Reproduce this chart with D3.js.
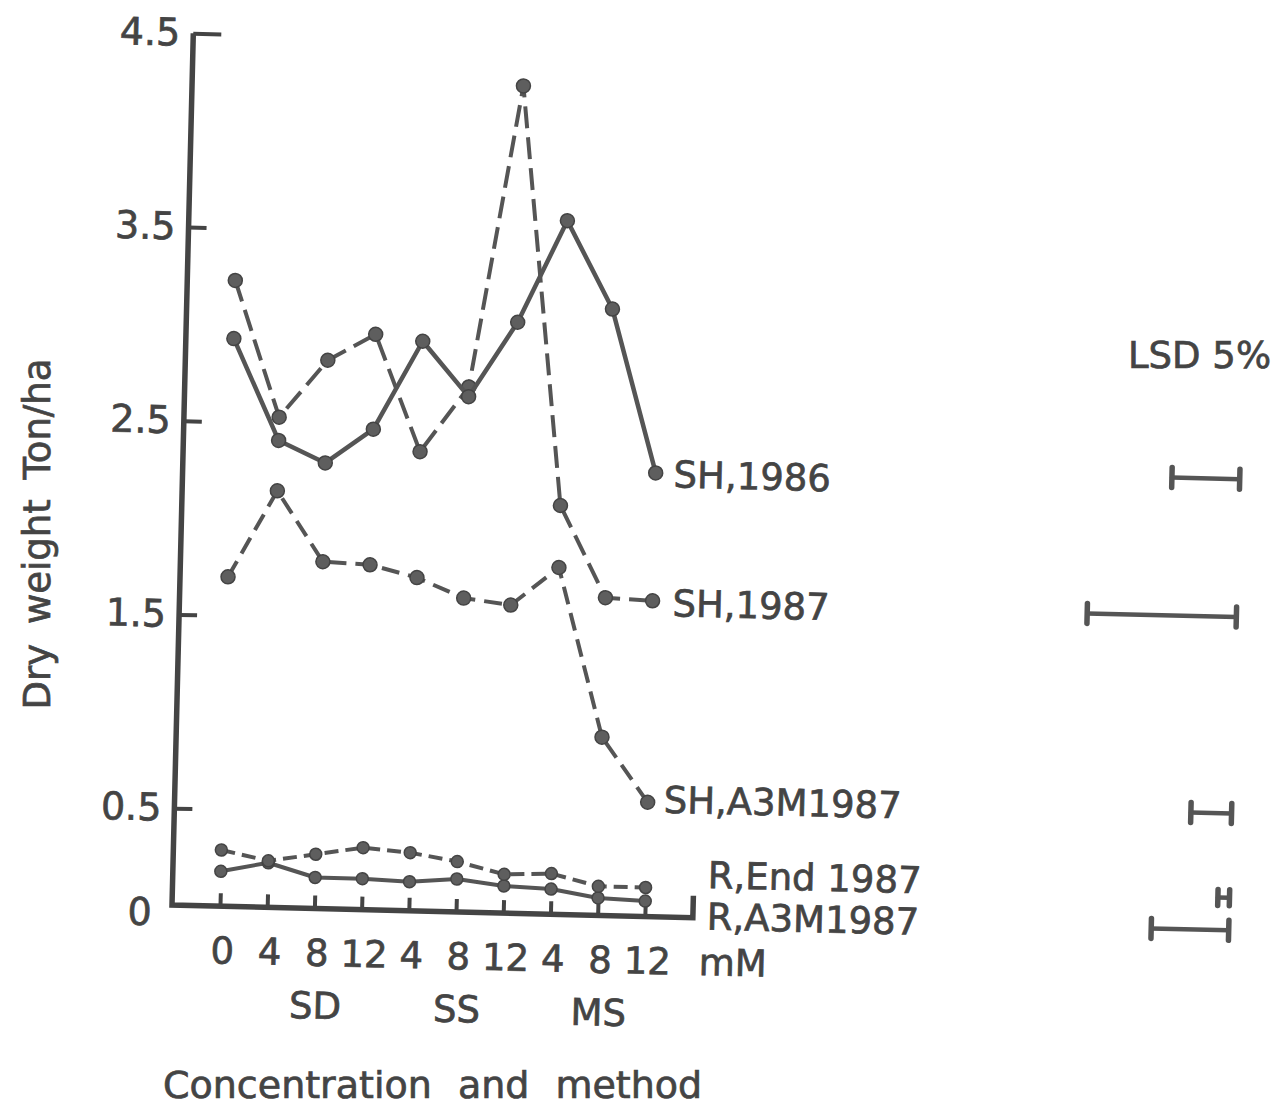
<!DOCTYPE html>
<html>
<head>
<meta charset="utf-8">
<script src="https://cdn.jsdelivr.net/npm/d3@7"></script>
<style>
  body { margin: 0; background: #fff; }
  svg { display: block; }
  text { font-family: "DejaVu Sans", sans-serif; stroke: #444; stroke-width: 0.7px; }
</style>
</head>
<body>
<svg id="chart"></svg>
<script>
// values
const categories = ["0", "SD4", "SD8", "SD12", "SS4", "SS8", "SS12", "MS4", "MS8", "MS12"];
const tickLabels = ["0", "4", "8", "12", "4", "8", "12", "4", "8", "12"];
const methods = ["SD", "SS", "MS"];
const methodCenters = ["SD8", "SS8", "MS8"];
const yTicks = [0, 0.5, 1.5, 2.5, 3.5, 4.5];

const seriesNames = ["SH,1986", "SH,1987", "SH,A3M1987", "R,End 1987", "R,A3M1987"];
const sh1986     = [2.93, 2.41, 2.30, 2.48, 2.94, 2.66, 3.05, 3.58, 3.13, 2.29];
const sh1987     = [3.23, 2.53, 2.83, 2.97, 2.37, 2.71, 4.27, 2.11, 1.64, 1.63];
const shA3M1987  = [1.70, 2.15, 1.79, 1.78, 1.72, 1.62, 1.59, 1.79, 0.92, 0.59];
const rEnd1987   = [0.29, 0.24, 0.28, 0.32, 0.30, 0.26, 0.20, 0.21, 0.15, 0.15];
const rA3M1987   = [0.18, 0.23, 0.16, 0.16, 0.15, 0.17, 0.14, 0.13, 0.09, 0.08];
const lsd5       = [0.35, 0.77, 0.21, 0.06, 0.40];

const W = 1288, H = 1113;
const ink = "#444";
const originX = 172, axisEnd = 693;

const svg = d3.select("#chart").attr("width", W).attr("height", H);

const x = d3.scalePoint().domain(categories).range([220, 645]);
const y = d3.scaleLinear().domain([0, 4.5]).range([905, 33]);
const unit = y(0) - y(1);

// the scan is tilted a little clockwise
const g = svg.append("g").attr("transform", `rotate(1.4,${originX},${y(0)})`);

// y axis ticks point inward
const yAxis = g.append("g")
  .attr("transform", `translate(${originX},0)`)
  .call(d3.axisLeft(y).tickValues(yTicks)
    .tickFormat(d => d === 0 ? "0" : d3.format(".1f")(d))
    .tickSize(-18).tickPadding(13));
yAxis.select(".domain").remove();
yAxis.attr("font-size", 38).attr("font-family", "DejaVu Sans").attr("color", ink);
yAxis.selectAll("line").attr("stroke-width", 4);
yAxis.selectAll(".tick").filter(d => d === 4.5).select("line").attr("x2", 28);
yAxis.selectAll(".tick").filter(d => d === 0).select("line").remove();
yAxis.selectAll(".tick").filter(d => d === 0).select("text").attr("transform", "translate(-7,8)");

// x axis, ticks upward
const xAxis = g.append("g")
  .attr("transform", `translate(0,${y(0)})`)
  .call(d3.axisBottom(x)
    .tickFormat(d => tickLabels[categories.indexOf(d)])
    .tickSize(-13).tickPadding(31));
xAxis.select(".domain").remove();
xAxis.attr("font-size", 37).attr("font-family", "DejaVu Sans").attr("color", ink);
xAxis.selectAll("line").attr("stroke-width", 4);
xAxis.selectAll("text").attr("dx", 3);

// axis frame
g.append("path")
  .attr("d", d3.line()([[originX, y(4.5)], [originX, y(0)], [axisEnd, y(0)], [axisEnd, y(0) - 22]]))
  .attr("fill", "none")
  .attr("stroke", ink)
  .attr("stroke-width", 5.5)
  .attr("stroke-linejoin", "miter");

g.append("text")
  .attr("x", axisEnd + 41)
  .attr("y", y(0) + 57)
  .attr("text-anchor", "middle")
  .attr("font-size", 37)
  .attr("fill", ink)
  .text("mM");

g.selectAll(".method")
  .data(methods)
  .join("text")
  .attr("class", "method")
  .attr("x", (d, i) => x(methodCenters[i]) + 3)
  .attr("y", y(0) + 110)
  .attr("text-anchor", "middle")
  .attr("font-size", 37)
  .attr("fill", ink)
  .text(d => d);

// series
const seriesValues = [sh1986, sh1987, shA3M1987, rEnd1987, rA3M1987];
const lineStyle = [
  { dash: null, width: 4.5, r: 7 },
  { dash: "22,9", width: 4, r: 7 },
  { dash: "18,9", width: 4, r: 7 },
  { dash: "14,7", width: 4, r: 6 },
  { dash: null, width: 4, r: 6 }
];
const labelPos = [
  { dx: 18, dy: 14, lsdShift: -9 },
  { dx: 20, dy: 15, lsdShift: 0 },
  { dx: 16, dy: 10, lsdShift: 0 },
  { end: true, dy: -1, lsdShift: 10 },
  { end: true, dy: 27, lsdShift: 1 }
];

const line = d3.line()
  .x((d, i) => x(categories[i]))
  .y(d => y(d));

const series = seriesNames.map((name, k) => ({ name, values: seriesValues[k], style: lineStyle[k], pos: labelPos[k], lsd: lsd5[k] }));

const sg = g.append("g").selectAll("g")
  .data(series.slice().reverse())
  .join("g");

sg.append("path")
  .attr("d", d => line(d.values))
  .attr("fill", "none")
  .attr("stroke", "#555")
  .attr("stroke-width", d => d.style.width)
  .attr("stroke-dasharray", d => d.style.dash)
  .attr("stroke-linejoin", "round");

sg.selectAll("circle")
  .data(d => d.values.map((v, i) => ({ v, i, r: d.style.r })))
  .join("circle")
  .attr("cx", d => x(categories[d.i]))
  .attr("cy", d => y(d.v))
  .attr("r", d => d.r)
  .attr("fill", "#5e5e5e")
  .attr("stroke", "#444")
  .attr("stroke-width", 1.5);

// series labels and LSD bars
const labelX = d => d.pos.end ? axisEnd + 14 : x(categories[categories.length - 1]) + d.pos.dx;
const labelY = d => y(d.values[d.values.length - 1]) + d.pos.dy;

g.append("g").selectAll("text")
  .data(series)
  .join("text")
  .attr("x", labelX)
  .attr("y", labelY)
  .attr("font-size", 37)
  .attr("fill", ink)
  .text(d => d.name);

const lsdRight = 1229;
const bars = g.append("g").selectAll("g")
  .data(series)
  .join("g")
  .attr("transform", d => `translate(${lsdRight},${labelY(d) - 13 + d.pos.lsdShift})`)
  .attr("stroke", "#555")
  .attr("stroke-linecap", "round");

bars.append("line")
  .attr("x1", d => -d.lsd * unit).attr("x2", 0)
  .attr("stroke-width", 4.5);
bars.append("line")
  .attr("x1", d => -d.lsd * unit).attr("x2", d => -d.lsd * unit)
  .attr("y1", d => d.lsd < 0.1 ? -8 : -10).attr("y2", d => d.lsd < 0.1 ? 8 : 10)
  .attr("stroke-width", 5.5);
bars.append("line")
  .attr("y1", d => d.lsd < 0.1 ? -8 : -10).attr("y2", d => d.lsd < 0.1 ? 8 : 10)
  .attr("stroke-width", 5.5);

// titles (not tilted)
svg.append("text")
  .attr("x", 1128)
  .attr("y", 368)
  .attr("font-size", 37)
  .attr("fill", ink)
  .text("LSD 5%");

svg.append("text")
  .attr("transform", "translate(50,534) rotate(-90)")
  .attr("text-anchor", "middle")
  .attr("font-size", 37)
  .attr("word-spacing", 8)
  .attr("fill", ink)
  .text("Dry weight Ton/ha");

svg.append("text")
  .attr("x", 163)
  .attr("y", 1098)
  .attr("font-size", 38)
  .attr("word-spacing", 14)
  .attr("fill", ink)
  .text("Concentration and method");
</script>
</body>
</html>
